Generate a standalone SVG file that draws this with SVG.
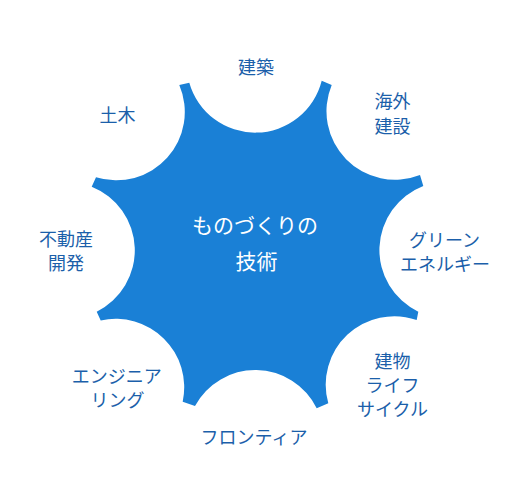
<svg xmlns="http://www.w3.org/2000/svg" width="512" height="504" viewBox="0 0 512 504">
<style>
.lbl{font-family:"Noto Sans CJK JP","Noto Sans",sans-serif;font-size:18px;fill:#1b5faa;text-anchor:middle}
.ctr{font-family:"Noto Sans CJK JP","Noto Sans",sans-serif;font-size:21px;fill:#ffffff;text-anchor:middle}
</style>
<rect width="512" height="504" fill="#ffffff"/>
<g id="hub">
<path fill="#1a80d6" d="M189.3,82.7 A68.5,68.5 0 0 0 321.7,80.7 L331.7,85 A68.5,68.5 0 0 0 420,175 L423.3,186 A68.5,68.5 0 0 0 418.3,311.7 L416.7,320 A68.5,68.5 0 0 0 328.3,403.3 L316.7,408.3 A68.5,68.5 0 0 0 195,406 L182.7,401.7 A68.5,68.5 0 0 0 100.7,320.5 L96.7,311.7 A68.5,68.5 0 0 0 91.7,186.7 L96,177.3 A68.5,68.5 0 0 0 179.3,85 Z"/>
<text class="ctr" x="255" y="233">ものづくりの</text>
<text class="ctr" x="256.5" y="269">技術</text>
</g>
<g id="connectors"></g>
<g id="n-kenchiku"><text class="lbl" x="256" y="74">建築</text></g>
<g id="n-kaigai"><text class="lbl" x="392.5" y="108">海外</text><text class="lbl" x="392.5" y="133">建設</text></g>
<g id="n-green"><text class="lbl" x="444.5" y="247">グリーン</text><text class="lbl" x="445" y="271">エネルギー</text></g>
<g id="n-tatemono"><text class="lbl" x="392.5" y="368">建物</text><text class="lbl" x="392.5" y="392">ライフ</text><text class="lbl" x="392.5" y="416">サイクル</text></g>
<g id="n-frontier"><text class="lbl" x="254" y="443.5">フロンティア</text></g>
<g id="n-engineering"><text class="lbl" x="116.7" y="383">エンジニア</text><text class="lbl" x="117.5" y="407">リング</text></g>
<g id="n-fudousan"><text class="lbl" x="66" y="246">不動産</text><text class="lbl" x="66" y="270">開発</text></g>
<g id="n-doboku"><text class="lbl" x="117.5" y="122">土木</text></g>
</svg>
